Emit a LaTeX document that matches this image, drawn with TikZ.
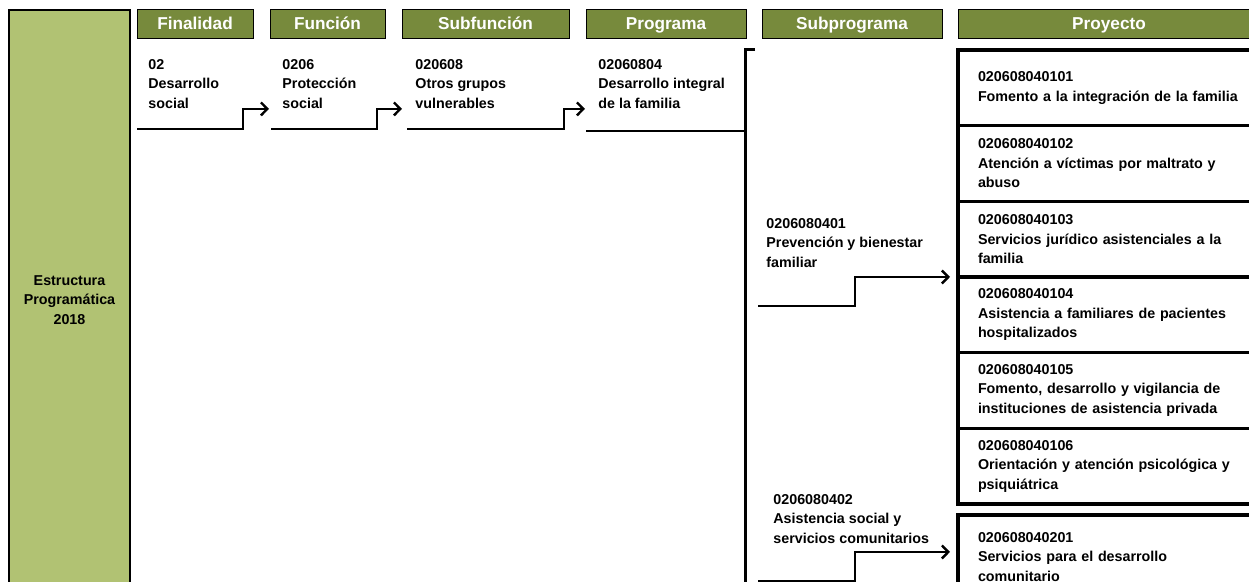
\documentclass[tikz,border=0pt]{standalone}
\usepackage{fontspec}
\setmainfont{Liberation Sans}
\usetikzlibrary{positioning,arrows.meta}
\definecolor{hdrgreen}{HTML}{778A3C}
\definecolor{sidegreen}{HTML}{B1C273}

\tikzset{
  header/.style={draw=black, line width=0.5pt, fill=hdrgreen, text=white,
    font=\fontsize{8.6}{10}\selectfont\bfseries, minimum height=14.25pt,
    text height=6.3pt, text depth=1.5pt, inner sep=0pt, outer sep=0pt},
  txt/.style={anchor=north west, inner sep=0pt, align=left,
    font=\fontsize{7.15}{9.75}\selectfont\bfseries},
  proj/.style={draw=black, line width=1.6pt, anchor=north west, align=left,
    minimum width=160pt, minimum height=37.83pt, text width=140pt,
    inner xsep=10pt, inner ysep=0pt, outer sep=0pt,
    font=\fontsize{7.15}{9.75}\selectfont\bfseries},
  arr/.style={line width=1.2pt, -{Straight Barb[length=3.2pt,width=6.5pt]}},
  uline/.style={line width=1.2pt}
}

\begin{document}
\begin{tikzpicture}[x=0.5pt, y=-0.5pt]
\useasboundingbox (0,0) rectangle (1249,582);

%side box
\node[draw=black, line width=0.7pt, fill=sidegreen, anchor=north west, minimum width=60.5pt,
  minimum height=290pt, inner sep=0pt, outer sep=0pt, align=center,
  font=\fontsize{7.15}{9.75}\selectfont\bfseries] (side) at (9,10) {Estructura\\Programática\\2018};

%headers
\node[header, anchor=north west, minimum width=58pt] (hfin) at (137,10) {Finalidad};
\node[header, minimum width=57.5pt, right=8.5pt of hfin] (hfun) {Función};
\node[header, minimum width=83.5pt, right=8.5pt of hfun] (hsubf) {Subfunción};
\node[header, minimum width=80pt, right=8.5pt of hsubf] (hprog) {Programa};
\node[header, minimum width=90pt, right=8pt of hprog] (hsubp) {Subprograma};
\node[header, minimum width=151pt, right=8pt of hsubp] (hproy) {Proyecto};

%texts
\node[txt] (fin) at (148,59) {02\\Desarrollo\\social};
\node[txt] (fun) at (282,59) {0206\\Protección\\social};
\node[txt] (subf) at (415,59) {020608\\Otros grupos\\vulnerables};
\node[txt] (prog) at (598,59) {02060804\\Desarrollo integral\\de la familia};
\node[txt] (sub1) at (766,218) {0206080401\\Prevención y bienestar\\familiar};
\node[txt] (sub2) at (773,494) {0206080402\\Asistencia social y\\servicios comunitarios};

%proyectos
\node[proj] (p1) at (958,50) {020608040101\\Fomento a la integración de la familia};
\node[proj, below=0pt of p1] (p2) {020608040102\\Atención a víctimas por maltrato y\\abuso};
\node[proj, below=0pt of p2] (p3) {020608040103\\Servicios jurídico asistenciales a la\\familia};
\node[proj, below=0pt of p3] (p4) {020608040104\\Asistencia a familiares de pacientes\\hospitalizados};
\node[proj, below=0pt of p4] (p5) {020608040105\\Fomento, desarrollo y vigilancia de\\instituciones de asistencia privada};
\node[proj, below=0pt of p5] (p6) {020608040106\\Orientación y atención psicológica y\\psiquiátrica};
\node[proj, minimum height=42pt, below=5.5pt of p6] (p7) {020608040201\\Servicios para el desarrollo\\comunitario};

%underlines and arrows
\coordinate (finl) at (137,129);
\coordinate (finr) at (243,129);
\coordinate (funl) at (271,129);
\coordinate (funr) at (377,129);
\coordinate (subfl) at (407,129);
\coordinate (subfr) at (564,129);
\coordinate (progl) at (586,131);
\coordinate (progr) at (745,131);
\draw[arr] (finl) -- (finr) |- ([xshift=-6.5pt]fun.south west);
\draw[arr] (funl) -- (funr) |- ([xshift=-6.5pt]subf.south west);
\draw[arr] (subfl) -- (subfr) |- ([xshift=-6.5pt]prog.south west);
\draw[uline] (progl) -- (progr);

%bracket
\coordinate (brtop) at (745,50);
\coordinate (brbot) at (745,595);
\draw[line width=1.5pt] ([xshift=5pt]brtop) -- (brtop) -- (brbot);

\coordinate (s1l) at (758,306);
\coordinate (s1r) at (855,306);
\coordinate (s2l) at (758,581);
\coordinate (s2r) at (855,581);
\draw[arr] (s1l) -- (s1r) |- ([xshift=-4pt]p3.south west);
\draw[arr] (s2l) -- (s2r) |- ([xshift=-4pt,yshift=2.5pt]p7.west);
\end{tikzpicture}
\end{document}
